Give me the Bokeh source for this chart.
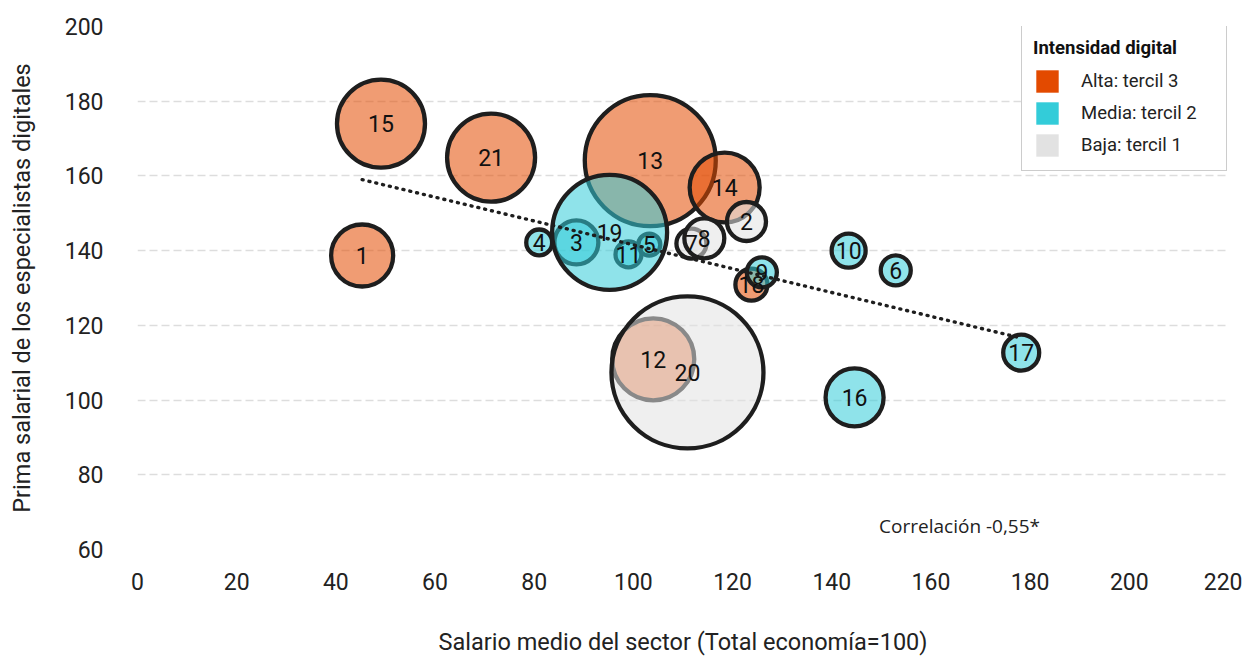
from bokeh.plotting import figure
from bokeh.models import ColumnDataSource, Range1d, Label, Legend, LegendItem, FixedTicker
from bokeh.embed import file_html
from bokeh.resources import INLINE
from bokeh.core.properties import value
import numpy as np

# ---- data ----
ids = [1, 2, 3, 4, 5, 6, 7, 8, 9, 10, 11, 12, 13, 14, 15, 16, 17, 18, 19, 20, 21]
salario = [45.3, 122.8, 88.5, 81.0, 103.2, 152.9, 111.7, 114.3, 125.9, 143.4, 99.0,
           104.0, 103.4, 118.4, 49.1, 144.6, 178.2, 123.8, 95.2, 110.9, 71.3]
prima = [138.7, 147.8, 142.2, 142.2, 141.6, 134.7, 141.9, 143.3, 134.2, 140.0, 139.0,
         110.9, 164.1, 156.9, 174.0, 100.7, 112.7, 130.9, 144.9, 107.4, 164.9]
peso = [3.33, 1.32, 1.67, 0.58, 0.42, 0.78, 0.78, 1.38, 0.78, 1.00, 0.58,
        5.82, 14.84, 4.24, 6.70, 2.91, 1.12, 0.89, 11.44, 19.99, 6.70]
grupo = ["Alta", "Baja", "Media", "Media", "Media", "Media", "Baja", "Baja", "Media", "Media", "Media",
         "Alta", "Alta", "Alta", "Alta", "Media", "Media", "Alta", "Media", "Baja", "Alta"]

grupos = ["Alta", "Media", "Baja"]
grupo_etiquetas = ["Alta: tercil 3", "Media: tercil 2", "Baja: tercil 1"]
colores = ["#E34A00", "#33CCD9", "#E2E2E2"]

x_ticks = [0, 20, 40, 60, 80, 100, 120, 140, 160, 180, 200, 220]
y_ticks = [60, 80, 100, 120, 140, 160, 180, 200]
titulo_x = "Salario medio del sector (Total economía=100)"
titulo_y = "Prima salarial de los especialistas digitales"
correlacion_texto = "Correlación -0,55*"

FONT = "Roboto"
TXT = "#222222"

p = figure(width=1242, height=658, output_backend="svg", toolbar_location=None,
           x_range=Range1d(0, 220), y_range=Range1d(60, 200),
           min_border_left=137, min_border_right=14, min_border_top=26, min_border_bottom=109)
p.outline_line_color = None
p.background_fill_color = "white"

# grid
p.xgrid.visible = False
p.ygrid.grid_line_color = "#dddddd"
p.ygrid.grid_line_dash = "8 4"
p.ygrid.grid_line_width = 1.5

# axes
for ax in (p.xaxis, p.yaxis):
    ax.axis_line_color = None
    ax.major_tick_line_color = None
    ax.minor_tick_line_color = None
    ax.major_label_text_font = FONT
    ax.major_label_text_font_size = "23px"
    ax.major_label_text_color = TXT
    ax.axis_label_text_font = FONT
    ax.axis_label_text_font_size = "23.5px"
    ax.axis_label_text_font_style = "normal"
    ax.axis_label_text_color = TXT
p.xaxis.ticker = FixedTicker(ticks=x_ticks)
p.yaxis.ticker = FixedTicker(ticks=y_ticks)
p.xaxis.major_label_standoff = 17
p.yaxis.major_label_standoff = 28
p.xaxis.axis_label = titulo_x
p.yaxis.axis_label = titulo_y
p.xaxis.axis_label_standoff = 35
p.yaxis.axis_label_standoff = 26

# bubbles: drawn group by group (Alta, Media, Baja), ids ascending
for g, c in zip(grupos, colores):
    idx = [i for i in range(len(ids)) if grupo[i] == g]
    src = ColumnDataSource(dict(
        x=[salario[i] for i in idx],
        y=[prima[i] for i in idx],
        d=[34 * np.sqrt(peso[i]) for i in idx],
    ))
    p.scatter("x", "y", size="d", source=src, fill_color=c, fill_alpha=0.55,
              line_color="#1e1e1e", line_width=4.3)

# regression line
b1, b0 = np.polyfit(salario, prima, 1)
xl = np.array([min(salario), max(salario)])
p.line(xl, b0 + b1 * xl, line_color="#1e1e1e", line_width=3.4, line_dash="1 6", line_cap="round")

# labels
lab_src = ColumnDataSource(dict(x=salario, y=prima, t=[str(i) for i in ids]))
p.text("x", "y", text="t", source=lab_src, text_font=value(FONT), text_font_size="23px",
       text_align="center", text_baseline="middle", text_color="#111111")

# correlation note
p.add_layout(Label(x=182, y=66.4, text=correlacion_texto, text_align="right",
                   text_baseline="middle", text_font="Open Sans", text_font_size="19px",
                   text_color=TXT))

# legend (swatches via quads holding no drawable data)
items = []
for lab, c in zip(grupo_etiquetas, colores):
    r = p.quad(left=[np.nan], right=[np.nan], top=[np.nan], bottom=[np.nan],
               fill_color=c, line_color=None)
    items.append(LegendItem(label=lab, renderers=[r]))
leg = Legend(items=items, title="Intensidad digital", location=(884, 378))
leg.title_text_font = FONT
leg.title_text_font_style = "bold"
leg.title_text_font_size = "18.5px"
leg.title_text_color = "#111111"
leg.title_standoff = 8
leg.label_text_font = FONT
leg.label_text_font_size = "18.5px"
leg.label_text_color = TXT
leg.glyph_width = 28
leg.glyph_height = 28
leg.label_height = 28
leg.label_width = 134
leg.label_standoff = 20
leg.spacing = 4
leg.padding = 11
leg.margin = 0
leg.border_line_color = "#9a9a9a"
leg.border_line_width = 1.5
leg.background_fill_color = "white"
leg.background_fill_alpha = 1
p.add_layout(leg)

open("out.html", "w").write(file_html(p, INLINE))
